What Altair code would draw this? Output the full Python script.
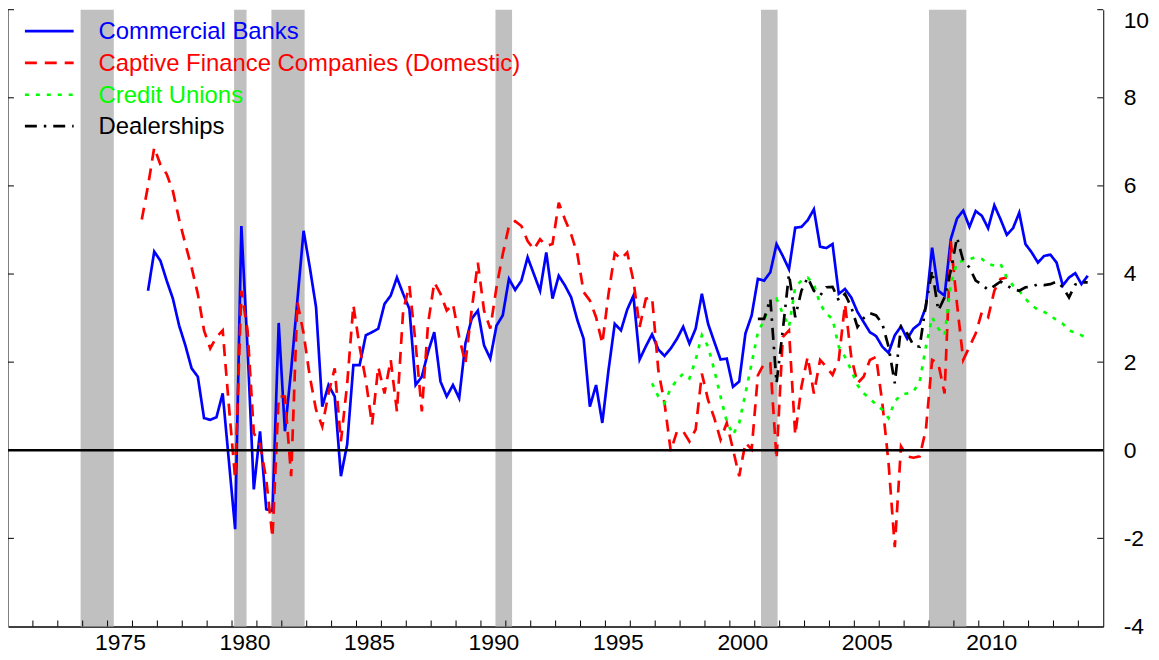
import altair as alt
import pandas as pd

FONT = "Liberation Sans"

series_names = ["Commercial Banks", "Captive Finance Companies (Domestic)", "Credit Unions", "Dealerships"]
series_colors = ["#0000ff", "#ff0000", "#00ff00", "#000000"]
series_dashes = [[1, 0], [12, 8], [4, 7], [12, 7, 2.5, 7]]

banks_start = "1976Q3"
banks_values = [
    3.62, 4.51,
    4.30, 3.85, 3.44, 2.83,
    2.38, 1.86, 1.67, 0.73,
    0.69, 0.75, 1.29, -0.25,
    -1.79, 5.09, 2.30, -0.89,
    0.43, -1.34, -1.38, 2.89,
    0.43, 1.82, 3.40, 4.98,
    4.15, 3.25, 0.99, 1.48,
    1.22, -0.59, 0.13, 1.93,
    1.93, 2.61, 2.68, 2.76,
    3.32, 3.51, 3.92, 3.55,
    3.21, 1.48, 1.67, 2.23,
    2.68, 1.56, 1.22, 1.48,
    1.18, 2.42, 2.98, 3.17,
    2.38, 2.08, 2.83, 3.06,
    3.89, 3.64, 3.85, 4.38,
    4.00, 3.62, 4.49, 3.44,
    3.96, 3.74, 3.47, 2.95,
    2.53, 0.99, 1.48, 0.62,
    1.82, 2.87, 2.72, 3.19,
    3.51, 2.06, 2.36, 2.63,
    2.29, 2.14, 2.31, 2.53,
    2.80, 2.42, 2.76, 3.55,
    2.87, 2.46, 2.06, 2.08,
    1.44, 1.56, 2.65, 3.06,
    3.89, 3.85, 4.04, 4.68,
    4.41, 4.11, 5.05, 5.07,
    5.22, 5.47, 4.62, 4.59,
    4.68, 3.55, 3.66, 3.47,
    3.14, 2.91, 2.68, 2.59,
    2.35, 2.21, 2.61, 2.81,
    2.53, 2.76, 2.87, 3.25,
    4.60, 3.62, 3.51, 4.79,
    5.26, 5.44, 5.07, 5.43,
    5.32, 5.04, 5.56, 5.24,
    4.89, 5.04, 5.39, 4.68,
    4.49, 4.26, 4.41, 4.44,
    4.26, 3.74, 3.92, 4.02,
    3.77, 3.96,
]

captive_start = "1976Q2"
captive_values = [
    5.24, 6.00, 6.87,
    6.48, 6.27, 5.88, 5.24,
    4.68, 4.15, 3.55, 2.72,
    2.31, 2.57, 2.72, 1.00,
    -0.65, 3.62, 2.72, 0.39,
    0.13, -0.66, -1.98, 1.22,
    1.22, -0.59, 3.36, 2.65,
    1.67, 0.92, 0.54, 1.29,
    1.86, 0.20, 1.50, 3.29,
    2.35, 1.59, 0.58, 1.89,
    1.29, 2.05, 0.88, 3.17,
    3.74, 2.42, 0.88, 2.87,
    3.81, 3.55, 3.17, 3.32,
    2.57, 1.97, 3.17, 4.26,
    3.17, 2.76, 3.70, 4.45,
    5.09, 5.20, 5.09, 4.75,
    4.56, 4.79, 4.64, 4.68,
    5.62, 5.24, 4.90, 4.45,
    3.59, 3.40, 3.02, 2.42,
    3.55, 4.47, 4.34, 4.49,
    3.85, 2.80, 3.44, 3.47,
    1.82, 1.07, -0.02, 0.43,
    0.43, 0.20, 0.47, 1.74,
    1.14, 0.73, 0.24, 0.62,
    0.02, -0.59, 0.17, 0.02,
    1.70, 1.97, 1.97, -0.20,
    2.57, 2.72, 0.35, 1.44,
    2.12, 1.29, 2.05, 1.89,
    1.71, 2.05, 3.32, 2.12,
    1.52, 1.67, 2.05, 2.12,
    1.07, -0.29, -2.20, 0.09,
    -0.14, -0.17, -0.14, 0.47,
    2.05, 1.97, 1.29, 4.75,
    3.32, 2.05, 2.35, 2.65,
    3.14, 3.02, 3.62, 3.89,
    3.92,
]

credit_unions_start = "1996Q4"
credit_unions_values = [
    1.52,
    1.22, 1.07, 1.41, 1.59,
    1.74, 1.63, 2.05, 2.61,
    2.35, 1.82, 1.22, 0.65,
    0.35, 0.62, 1.29, 1.97,
    2.68, 2.95, 3.32, 3.44,
    3.10, 2.80, 3.70, 3.85,
    3.92, 3.77, 3.32, 3.10,
    2.98, 2.35, 2.12, 1.82,
    1.48, 1.29, 1.18, 1.03,
    0.92, 0.73, 1.11, 1.26,
    1.29, 1.33, 1.56, 2.35,
    3.02, 2.76, 2.61, 3.77,
    4.26, 4.30, 4.34, 4.38,
    4.34, 4.23, 4.19, 4.23,
    3.92, 3.74, 3.62, 3.44,
    3.29, 3.19, 3.14, 3.06,
    2.95, 2.87, 2.72, 2.67,
    2.61, 2.53,
]

dealers_start = "2001Q1"
dealers_values = [
    2.98, 2.98, 3.44, 1.52,
    2.72, 4.00, 3.02, 3.62,
    3.92, 3.62, 3.51, 3.70,
    3.71, 3.40, 3.55, 3.25,
    2.80, 3.00, 3.11, 3.06,
    2.87, 2.35, 1.52, 2.80,
    2.65, 2.38, 2.35, 3.30,
    4.08, 3.17, 3.47, 4.08,
    4.83, 4.30, 4.15, 3.85,
    3.76, 3.64, 3.73, 3.83,
    3.74, 3.66, 3.62, 3.70,
    3.71, 3.77, 3.75, 3.77,
    3.83, 3.70, 3.47, 3.76,
    3.81, 3.81,
]

recession_start = [1973.917, 1980.083, 1981.583, 1990.583, 2001.25, 2008.0]
recession_end = [1975.25, 1980.583, 1982.917, 1991.25, 2001.917, 2009.5]

x_tick_years = list(range(1972, 2015))
x_label_years = [1975, 1980, 1985, 1990, 1995, 2000, 2005, 2010]
y_tick_values = [-4, -2, 0, 2, 4, 6, 8, 10]


def quarter_positions(start, n):
    year, q = int(start[:4]), int(start[-1])
    pos = []
    for _ in range(n):
        pos.append(year + (q - 1) / 4 + 0.125)
        q += 1
        if q == 5:
            q = 1
            year += 1
    return pos


starts = [banks_start, captive_start, credit_unions_start, dealers_start]
values = [banks_values, captive_values, credit_unions_values, dealers_values]

W, H = 1101, 620

xscale = alt.Scale(domain=[1971, 2015], nice=False, zero=False)
yscale = alt.Scale(domain=[-4, 10], nice=False, zero=False)

xaxis = alt.Axis(
    values=[y + 0.5 for y in x_label_years], labelExpr="floor(datum.value)",
    ticks=False, tickSize=0, grid=False, domain=True, domainColor="black",
    domainWidth=1.5, labelFont=FONT, labelFontSize=23, labelColor="black",
    labelPadding=5, title=None, labelFlush=False, labelOverlap=False,
)
yaxis = alt.Axis(
    orient="right", values=y_tick_values, ticks=False, tickSize=0, grid=False,
    domain=True, domainColor="black", domainWidth=1, labelFont=FONT,
    labelFontSize=23, labelColor="black", labelPadding=20, title=None,
    labelFlush=False, labelOverlap=False, labelExpr="'' + datum.value",
    labelOffset={"condition": {"test": "datum.value == 10", "value": 11}, "value": 0},
)

rec_df = pd.DataFrame({"start": recession_start, "end": recession_end})
rec = alt.Chart(rec_df).mark_rect(color="#c0c0c0").encode(
    x=alt.X("start:Q", scale=xscale, axis=xaxis), x2="end:Q"
)

layers = [rec]
for name, color, dash, st, vals in zip(series_names, series_colors, series_dashes, starts, values):
    df = pd.DataFrame({"t": quarter_positions(st, len(vals)), "v": vals})
    layers.append(
        alt.Chart(df).mark_line(color=color, strokeDash=dash, strokeWidth=2.7).encode(
            x=alt.X("t:Q", scale=xscale, axis=xaxis),
            y=alt.Y("v:Q", scale=yscale, axis=yaxis),
        )
    )

zero_df = pd.DataFrame({"v": [0]})
layers.append(
    alt.Chart(zero_df).mark_rule(color="black", strokeWidth=2.5).encode(
        y=alt.Y("v:Q", scale=yscale, axis=yaxis)
    )
)

xt_df = pd.DataFrame({"yr": x_tick_years})
layers.append(
    alt.Chart(xt_df).mark_rule(color="black", strokeWidth=1).encode(
        x=alt.X("yr:Q", scale=xscale, axis=xaxis), y=alt.value(H), y2=alt.value(H - 6)
    )
)

yt_df = pd.DataFrame({"v": [t for t in y_tick_values if t not in (-4, 0)]})
layers.append(
    alt.Chart(yt_df).mark_rule(color="black", strokeWidth=1).encode(
        y=alt.Y("v:Q", scale=yscale, axis=yaxis), x=alt.value(W - 6), x2=alt.value(W)
    )
)
layers.append(
    alt.Chart(yt_df).mark_rule(color="black", strokeWidth=1).encode(
        y=alt.Y("v:Q", scale=yscale, axis=yaxis), x=alt.value(0), x2=alt.value(6)
    )
)
layers.append(
    alt.Chart(pd.DataFrame({"a": [0]})).mark_rule(color="black", strokeWidth=1).encode(
        x=alt.value(0), y=alt.value(0), y2=alt.value(H)
    )
)

legend_rows = [21.5, 53.5, 85.5, 117]
for name, color, dash, ry in zip(series_names, series_colors, series_dashes, legend_rows):
    ldf = pd.DataFrame({"name": [name]})
    layers.append(
        alt.Chart(ldf).mark_rule(color=color, strokeDash=dash, strokeWidth=2.7).encode(
            x=alt.value(17), x2=alt.value(66), y=alt.value(ry)
        )
    )
    layers.append(
        alt.Chart(ldf).mark_text(
            align="left", baseline="middle", font=FONT, fontSize=24, color=color
        ).encode(x=alt.value(91), y=alt.value(ry + 1), text="name:N")
    )

chart = alt.layer(*layers).properties(
    width=W, height=H,
    padding={"left": 0, "top": 0, "right": 48, "bottom": 30},
    autosize=alt.AutoSizeParams(type="none"),
).configure(background="white").configure_view(stroke=None)

chart.save("out.html", embed_options={"renderer": "svg", "actions": False})
